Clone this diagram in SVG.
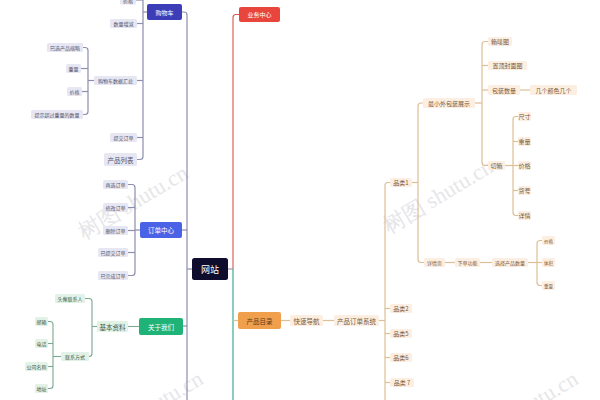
<svg xmlns="http://www.w3.org/2000/svg" width="600" height="400" viewBox="0 0 600 400">
<style>
text{font-family:"Noto Sans CJK SC","Noto Sans",sans-serif;text-anchor:middle;dominant-baseline:central}
.pl rect{fill:#e7e7f3}
.pl text{fill:#50546a;font-size:5px}
.gl rect{fill:#e2f2e7}
.gl text{fill:#3c5a48;font-size:5px}
.ol rect{fill:#fcefe2}
.ol text{fill:#7a5838;font-size:6px}
.main text{fill:#fff;font-size:6.5px}
.cp{fill:none;stroke:#8e8eb0;stroke-width:1.2}
.cg{fill:none;stroke:#7aa890;stroke-width:1.1}
.co{fill:none;stroke:#dcbf96;stroke-width:1.2}
.wm{font-family:"Liberation Serif",serif;font-size:22px;fill:#b8b8c0;opacity:0.35;text-anchor:start}
</style>

<g id="watermarks">
<text class="wm" x="80" y="234" transform="rotate(-31 80 234)">树图 shutu.cn</text>
<text class="wm" x="385" y="228" transform="rotate(-31 385 228)">树图 shutu.cn</text>
<text class="wm" x="95" y="440" transform="rotate(-31 95 440)">树图 shutu.cn</text>
<text class="wm" x="470" y="440" transform="rotate(-31 470 440)">树图 shutu.cn</text>
</g>

<g id="connectors">
<!-- left trunk -->
<path class="cp" d="M182,12 H184 Q187,12 187,15 V400"/>
<path class="cp" d="M187,269 H192"/>
<path class="cp" d="M182,230 H187"/>
<path class="cp" d="M183,326 H187"/>
<!-- 购物车 -->
<path class="cp" d="M147,12 H143"/>
<path class="cp" d="M143,-5 V156.5 Q143,159.5 140,159.5 H137"/>
<path class="cp" d="M143,0 H136"/>
<path class="cp" d="M143,23.5 H137"/>
<path class="cp" d="M143,80.5 H137"/>
<path class="cp" d="M143,137.5 H137"/>
<!-- 购物车数据汇总 -->
<path class="cp" d="M94,80.5 H88"/>
<path class="cp" d="M83,47.5 H85 Q88,47.5 88,50.5 V111.5 Q88,114.5 85,114.5 H83"/>
<path class="cp" d="M88,68.5 H81"/>
<path class="cp" d="M88,91.5 H82"/>
<!-- 订单中心 -->
<path class="cp" d="M140,230 H135"/>
<path class="cp" d="M128,184.5 H132 Q135,184.5 135,187.5 V272.5 Q135,275.5 132,275.5 H128"/>
<path class="cp" d="M135,207.5 H128"/>
<path class="cp" d="M135,230.5 H128"/>
<path class="cp" d="M135,252.5 H128"/>
<!-- 关于我们 -->
<path class="cg" d="M139,326.5 H128"/>
<path class="cg" d="M97,326.5 H92"/>
<path class="cg" d="M85,298.5 H89 Q92,298.5 92,301.5 V353.5 Q92,356.5 89,356.5"/>
<path class="cg" d="M61,356.5 H53"/>
<path class="cg" d="M48,321.5 H50 Q53,321.5 53,324.5 V385.5 Q53,388.5 50,388.5 H48"/>
<path class="cg" d="M53,343.5 H48"/>
<path class="cg" d="M53,366.5 H48"/>
<!-- right trunk -->
<path fill="none" stroke="#d9534a" stroke-width="1.1" d="M239,14.5 H236 Q233,14.5 233,17.5 V269"/>
<path fill="none" stroke="#2aa58a" stroke-width="1.1" d="M233,269 V400"/>
<path fill="none" stroke="#8e8e9e" stroke-width="1.1" d="M228,269 H233"/>
<path class="co" d="M233,320.5 H238"/>
<!-- 产品目录 -->
<path class="co" d="M281,320.5 H290"/>
<path class="co" d="M323,320.5 H334"/>
<path class="co" d="M379,320.5 H385"/>
<path class="co" d="M390,182.5 H388 Q385,182.5 385,185.5 V400"/>
<path class="co" d="M385,308.5 H390"/>
<path class="co" d="M385,333.5 H390"/>
<path class="co" d="M385,357.5 H390"/>
<path class="co" d="M385,382.5 H390"/>
<!-- 品类1 -->
<path class="co" d="M412,182.5 H418"/>
<path class="co" d="M423,103 H421 Q418,103 418,106 V259.5 Q418,262.5 421,262.5 H424"/>
<!-- 最小外包装展示 -->
<path class="co" d="M475,103 H482"/>
<path class="co" d="M488,41.5 H485 Q482,41.5 482,44.5 V162.5 Q482,165.5 485,165.5 H488"/>
<path class="co" d="M482,65.5 H488"/>
<path class="co" d="M482,90 H488"/>
<path class="co" d="M520,90 H530"/>
<path class="co" d="M505,165.5 H513"/>
<path class="co" d="M518,116.5 H516 Q513,116.5 513,119.5 V212.5 Q513,215.5 516,215.5 H518"/>
<path class="co" d="M513,141.5 H518"/>
<path class="co" d="M513,165.5 H518"/>
<path class="co" d="M513,190.5 H518"/>
<!-- 详情页 -->
<path class="co" d="M445,262.5 H455"/>
<path class="co" d="M480,262.5 H492"/>
<path class="co" d="M528,262.5 H537"/>
<path class="co" d="M542,240.5 H540 Q537,240.5 537,243.5 V282.5 Q537,285.5 540,285.5 H542"/>
<path class="co" d="M537,262.5 H542"/>
</g>

<!-- main nodes -->
<g id="root" class="main"><rect x="192" y="258" width="36" height="22" rx="2.5" fill="#0f0d2e"/><text x="210" y="269" style="font-size:9px">网站</text></g>
<g id="n-gwc" class="main"><rect x="147" y="4" width="35" height="16" rx="2" fill="#3d3db8"/><text x="164.5" y="12" style="font-size:6px">购物车</text></g>
<g id="n-ywzx" class="main"><rect x="239" y="7" width="41" height="15" rx="2" fill="#e8453c"/><text x="259.5" y="14.5" style="font-size:6px">业务中心</text></g>
<g id="n-ddzx" class="main"><rect x="140" y="222" width="42" height="16" rx="2" fill="#4a63e6"/><text x="161" y="230">订单中心</text></g>
<g id="n-gywm" class="main"><rect x="139" y="318" width="44" height="17" rx="2" fill="#20b377"/><text x="161" y="326.5">关于我们</text></g>
<g id="n-cpml"><rect x="238" y="312" width="43" height="17" rx="2" fill="#f0a04c"/><text x="259.5" y="320.5" style="font-size:6.5px;fill:#5a3a1a">产品目录</text></g>

<!-- 购物车 branch -->
<g id="p1" class="pl"><rect x="120" y="-4.5" width="16" height="9" rx="1.5"/><text x="128" y="0">价格</text></g>
<g id="p2" class="pl"><rect x="110" y="19" width="27" height="9" rx="1.5"/><text x="123.5" y="23.5">数量增减</text></g>
<g id="p3" class="pl"><rect x="94" y="76" width="43" height="9" rx="1.5"/><text x="115.5" y="80.5">购物车数据汇总</text></g>
<g id="p4" class="pl"><rect x="110" y="133" width="27" height="9" rx="1.5"/><text x="123.5" y="137.5">提交订单</text></g>
<g id="p5" class="pl"><rect x="104" y="153" width="33" height="13" rx="1.5"/><text x="120.5" y="159.5" style="font-size:6.5px">产品列表</text></g>
<g id="p6" class="pl"><rect x="47" y="43" width="36" height="9" rx="1.5"/><text x="65" y="47.5">已选产品缩略</text></g>
<g id="p7" class="pl"><rect x="66" y="64" width="15" height="9" rx="1.5"/><text x="73.5" y="68.5">重量</text></g>
<g id="p8" class="pl"><rect x="67" y="87" width="15" height="9" rx="1.5"/><text x="74.5" y="91.5">价格</text></g>
<g id="p9" class="pl"><rect x="31" y="110" width="52" height="9" rx="1.5"/><text x="57" y="114.5">提示超过重量的数量</text></g>

<!-- 订单中心 branch -->
<g id="d1" class="pl"><rect x="103" y="180" width="25" height="9" rx="1.5"/><text x="115.5" y="184.5">再选订单</text></g>
<g id="d2" class="pl"><rect x="103" y="203" width="25" height="9" rx="1.5"/><text x="115.5" y="207.5">修改订单</text></g>
<g id="d3" class="pl"><rect x="103" y="226" width="25" height="9" rx="1.5"/><text x="115.5" y="230.5">删除订单</text></g>
<g id="d4" class="pl"><rect x="98" y="248" width="30" height="9" rx="1.5"/><text x="113" y="252.5">已提交订单</text></g>
<g id="d5" class="pl"><rect x="98" y="271" width="30" height="9" rx="1.5"/><text x="113" y="275.5">已完成订单</text></g>

<!-- 关于我们 branch -->
<g id="g1" class="gl"><rect x="97" y="321" width="31" height="11" rx="1.5"/><text x="112.5" y="326.5" style="font-size:6.5px">基本资料</text></g>
<g id="g2" class="gl"><rect x="55" y="294" width="30" height="9" rx="1.5"/><text x="70" y="298.5">头像联系人</text></g>
<g id="g3" class="gl"><rect x="61" y="352" width="28" height="9" rx="1.5"/><text x="75" y="356.5">联系方式</text></g>
<g id="g4" class="gl"><rect x="35" y="317" width="13" height="9" rx="1.5"/><text x="41.5" y="321.5">邮箱</text></g>
<g id="g5" class="gl"><rect x="35" y="339" width="13" height="9" rx="1.5"/><text x="41.5" y="343.5">电话</text></g>
<g id="g6" class="gl"><rect x="25" y="362" width="23" height="9" rx="1.5"/><text x="36.5" y="366.5">公司名称</text></g>
<g id="g7" class="gl"><rect x="35" y="384" width="13" height="9" rx="1.5"/><text x="41.5" y="388.5">地址</text></g>

<!-- 产品目录 branch -->
<g id="o1" class="ol"><rect x="290" y="315" width="33" height="11" rx="1.5"/><text x="306.5" y="320.5" style="font-size:6.5px">快速导航</text></g>
<g id="o2" class="ol"><rect x="334" y="315" width="45" height="11" rx="1.5"/><text x="356.5" y="320.5" style="font-size:6.5px">产品订单系统</text></g>
<g id="o3" class="ol"><rect x="390" y="178" width="22" height="9" rx="1.5"/><text x="401" y="182.5">品类1</text></g>
<g id="o4" class="ol"><rect x="390" y="304" width="22" height="9" rx="1.5"/><text x="401" y="308.5">品类2</text></g>
<g id="o5" class="ol"><rect x="390" y="329" width="22" height="9" rx="1.5"/><text x="401" y="333.5">品类5</text></g>
<g id="o6" class="ol"><rect x="390" y="353" width="22" height="9" rx="1.5"/><text x="401" y="357.5">品类6</text></g>
<g id="o7" class="ol"><rect x="390" y="378" width="24" height="9" rx="1.5"/><text x="402" y="382.5">品类 7</text></g>
<g id="o8" class="ol"><rect x="423" y="98" width="52" height="10" rx="1.5"/><text x="449" y="103">最小外包装展示</text></g>
<g id="o9" class="ol"><rect x="424" y="258" width="21" height="9" rx="1.5"/><text x="434.5" y="262.5" style="font-size:5px">详情页</text></g>
<g id="o10" class="ol"><rect x="455" y="258" width="25" height="9" rx="1.5"/><text x="467.5" y="262.5" style="font-size:5px">下单功能</text></g>
<g id="o11" class="ol"><rect x="492" y="258" width="36" height="9" rx="1.5"/><text x="510" y="262.5" style="font-size:5px">选择产品数量</text></g>
<g id="o12" class="ol"><rect x="542" y="236" width="13" height="9" rx="1.5"/><text x="548.5" y="240.5" style="font-size:4.5px">价格</text></g>
<g id="o13" class="ol"><rect x="542" y="258" width="13" height="9" rx="1.5"/><text x="548.5" y="262.5" style="font-size:4.5px">体积</text></g>
<g id="o14" class="ol"><rect x="542" y="281" width="13" height="9" rx="1.5"/><text x="548.5" y="285.5" style="font-size:4.5px">重量</text></g>
<g id="o15" class="ol"><rect x="488" y="37" width="24" height="9" rx="1.5"/><text x="500" y="41.5">箱唛图</text></g>
<g id="o16" class="ol"><rect x="488" y="61" width="39" height="9" rx="1.5"/><text x="507.5" y="65.5">置顶封面图</text></g>
<g id="o17" class="ol"><rect x="488" y="85" width="32" height="10" rx="1.5"/><text x="504" y="90">包装数量</text></g>
<g id="o18" class="ol"><rect x="530" y="85" width="47" height="10" rx="1.5"/><text x="553.5" y="90">几个颜色几个</text></g>
<g id="o19" class="ol"><rect x="488" y="161" width="17" height="9" rx="1.5"/><text x="496.5" y="165.5">切箱</text></g>
<g id="o20" class="ol"><rect x="518" y="112" width="13" height="9" rx="1.5"/><text x="524.5" y="116.5">尺寸</text></g>
<g id="o21" class="ol"><rect x="518" y="137" width="13" height="9" rx="1.5"/><text x="524.5" y="141.5">重量</text></g>
<g id="o22" class="ol"><rect x="518" y="161" width="13" height="9" rx="1.5"/><text x="524.5" y="165.5">价格</text></g>
<g id="o23" class="ol"><rect x="518" y="186" width="13" height="9" rx="1.5"/><text x="524.5" y="190.5">货号</text></g>
<g id="o24" class="ol"><rect x="518" y="211" width="13" height="9" rx="1.5"/><text x="524.5" y="215.5">详情</text></g>
</svg>
